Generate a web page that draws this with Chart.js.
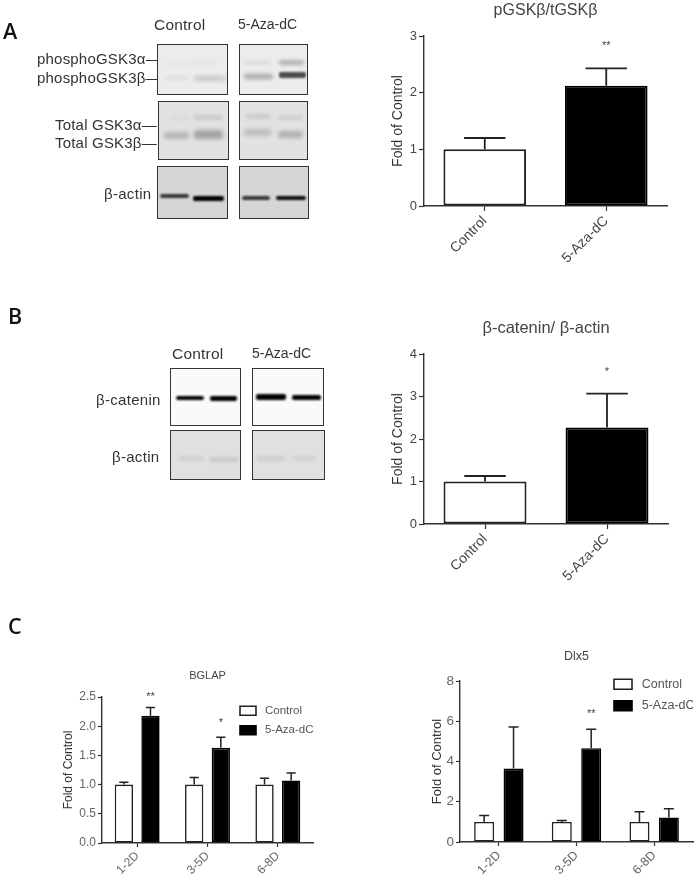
<!DOCTYPE html>
<html>
<head>
<meta charset="utf-8">
<title>Figure</title>
<script src="https://cdn.jsdelivr.net/npm/chart.js@4/dist/chart.umd.min.js"></script>
<style>
  html, body { margin: 0; padding: 0; background: #fff; }
  #page { position: relative; width: 697px; height: 882px; overflow: hidden; filter: blur(0.55px);
          font-family: "Liberation Sans", Arial, sans-serif; color: #333; }
  #page canvas { position: absolute; }
  .txt { position: absolute; white-space: nowrap; transform: translateY(-50%); line-height: 1; }
  .letter { position: absolute; white-space: nowrap; font-size: 21.5px; font-weight: 600; line-height: 1; color: #111;
            font-family: "Open Sans", sans-serif; transform: translateY(-50%); }
  .blot { position: absolute; box-sizing: border-box; border: 1.4px solid #333; overflow: hidden; }
  .band { position: absolute; background: #000; border-radius: 2px; }
</style>
</head>
<body>
<div id="page">
  <canvas id="chartA"></canvas>
  <canvas id="chartB"></canvas>
  <canvas id="chartBglap"></canvas>
  <canvas id="chartDlx5"></canvas>
</div>
<script>
// Datos de los graficos
var twoGroups = ["Control", "5-Aza-dC"];
var days = ["1-2D", "3-5D", "6-8D"];
var aTicks = [0, 1, 2, 3];
var bTicks = [0, 1, 2, 3, 4];
var bglapTicks = [0, 0.5, 1, 1.5, 2, 2.5];
var dlxTicks = [0, 2, 4, 6, 8];

var aValues = [1.0, 2.12];
var aTops = [1.2, 2.43];
var aStars = ["", "**"];
var aStarAt = [null, 2.82];

var bValues = [1.0, 2.27];
var bTops = [1.13, 3.07];
var bStars = ["", "*"];
var bStarAt = [null, 3.58];

var bglapControl = [1.0, 1.0, 1.0];
var bglapControlTops = [1.04, 1.12, 1.11];
var bglapAza = [2.18, 1.63, 1.07];
var bglapAzaTops = [2.32, 1.81, 1.2];
var bglapStars = ["**", "*", ""];
var bglapStarAt = [2.5, 2.05, null];

var dlxControl = [1.0, 1.0, 1.0];
var dlxControlTops = [1.32, 1.07, 1.5];
var dlxAza = [3.65, 4.66, 1.22];
var dlxAzaTops = [5.72, 5.6, 1.65];
var dlxStars = ["", "**", ""];
var dlxStarAt = [null, 6.35, null];

// Textos y membranas, fuera del grafico
var page = document.getElementById("page");

function addText(str, x, y, size, extra) {
  var el = document.createElement("div");
  el.className = "txt";
  el.textContent = str;
  el.style.left = x + "px";
  el.style.top = y + "px";
  el.style.fontSize = size + "px";
  if (extra) el.style.letterSpacing = extra + "px";
  page.appendChild(el);
}

function addLetter(str, x, y) {
  var el = document.createElement("div");
  el.className = "letter";
  el.textContent = str;
  el.style.left = x + "px";
  el.style.top = y + "px";
  page.appendChild(el);
}

function addBlot(x0, y0, x1, y1, bg, bands) {
  var el = document.createElement("div");
  el.className = "blot";
  el.style.left = x0 + "px";
  el.style.top = y0 + "px";
  el.style.width = (x1 - x0) + "px";
  el.style.height = (y1 - y0) + "px";
  el.style.background = bg;
  bands.forEach(function (b) {
    var d = document.createElement("div");
    d.className = "band";
    d.style.left = (b[0] - x0) + "px";
    d.style.top = (b[1] - y0) + "px";
    d.style.width = b[2] + "px";
    d.style.height = b[3] + "px";
    d.style.opacity = b[4];
    d.style.filter = "blur(" + (b[4] < 0.5 ? 2 : 1.1) + "px)";
    el.appendChild(d);
  });
  page.appendChild(el);
}

addLetter("A", 3, 31);
addLetter("B", 8, 316);
addLetter("C", 8, 626);

addText("Control", 154, 25, 15.5, 0.2);
addText("5-Aza-dC", 238, 24, 14);
addText("phosphoGSK3α—", 37, 58, 15, 0.2);
addText("phosphoGSK3β—", 37, 77, 15, 0.2);
addText("Total GSK3α—", 55, 124, 15, 0.2);
addText("Total GSK3β—", 55, 142, 15, 0.2);
addText("β-actin", 104, 193, 15, 0.3);

addText("Control", 172, 354, 15.5, 0.2);
addText("5-Aza-dC", 252, 353, 14);
addText("β-catenin", 96, 399, 15, 0.3);
addText("β-actin", 112, 456, 15, 0.3);

addBlot(157, 44, 228, 95, "#ececec", [[165, 61, 25, 3, 0.03], [192, 60, 24, 3, 0.05], [165, 75, 22, 4, 0.07], [193, 75, 32, 5, 0.16]]);
addBlot(239, 44, 308, 95, "#ececec", [[243, 60, 27, 3, 0.1], [278, 60, 25, 3, 0.42], [243, 73, 29, 5, 0.3], [278, 71, 27, 6, 0.68]]);
addBlot(158, 101, 229, 160, "#e2e2e2", [[170, 116, 18, 2, 0.08], [193, 115, 29, 3, 0.18], [163, 131, 25, 7, 0.2], [193, 129, 29, 9, 0.28]]);
addBlot(239, 101, 308, 160, "#e2e2e2", [[245, 114, 25, 3, 0.18], [277, 115, 25, 3, 0.15], [243, 128, 27, 7, 0.17], [277, 130, 25, 7, 0.22]]);
addBlot(157, 166, 228, 219, "#d6d6d6", [[159, 193, 29, 4, 0.75], [192, 195, 31, 5, 1]]);
addBlot(239, 166, 309, 219, "#d6d6d6", [[241, 195, 28, 4, 0.75], [275, 195, 30, 4, 0.95]]);

addBlot(170, 368, 241, 426, "#fafafa", [[175, 395, 28, 4, 1], [209, 395, 27, 5, 1]]);
addBlot(252, 368, 324, 426, "#fafafa", [[255, 393, 30, 6, 1], [291, 394, 29, 5, 1]]);
addBlot(170, 430, 241, 480, "#e0e0e0", [[177, 456, 26, 3, 0.12], [209, 457, 28, 3, 0.18]]);
addBlot(252, 430, 325, 480, "#e0e0e0", [[255, 456, 30, 3, 0.13], [292, 456, 23, 3, 0.1]]);

var errorBars = {
  id: "errorBars",
  afterDatasetsDraw: function (chart) {
    var ctx = chart.ctx;
    var yScale = chart.scales.y;
    chart.data.datasets.forEach(function (ds, i) {
      var meta = chart.getDatasetMeta(i);
      meta.data.forEach(function (bar, j) {
        var top = yScale.getPixelForValue(ds.tops[j]);
        var half = bar.width / 4;
        ctx.save();
        ctx.strokeStyle = "#222";
        ctx.lineWidth = ds.errWidth;
        ctx.beginPath();
        ctx.moveTo(bar.x, yScale.getPixelForValue(ds.data[j]));
        ctx.lineTo(bar.x, top);
        ctx.moveTo(bar.x - half, top);
        ctx.lineTo(bar.x + half, top);
        ctx.stroke();
        if (ds.stars[j]) {
          ctx.fillStyle = "#444";
          ctx.font = "11px 'Liberation Sans'";
          ctx.textAlign = "center";
          ctx.textBaseline = "middle";
          ctx.fillText(ds.stars[j], bar.x, yScale.getPixelForValue(ds.starAt[j]));
        }
        ctx.restore();
      });
    });
  },
};

// Coloca la leyenda dentro del area del grafico
var legendPlace = {
  id: "legendPlace",
  afterLayout: function (chart) {
    var p = chart.options.plugins.legendPlace;
    if (p && p.x !== undefined && chart.legend) {
      chart.legend.left = p.x;
      chart.legend.top = p.y;
    }
  },
};

// Un espacio delante del texto, el original separa mas la muestra
function spacedLabels(chart) {
  return Chart.defaults.plugins.legend.labels.generateLabels(chart).map(function (item) {
    item.text = " " + item.text;
    return item;
  });
}

// box: posicion del canvas; area: rectangulo del eje en la pagina
function makeChart(id, box, area, cfg) {
  var canvas = document.getElementById(id);
  canvas.style.left = box.left + "px";
  canvas.style.top = box.top + "px";
  var titleLine = cfg.titleSize * 1.2;
  var yTitleLine = cfg.yTitleSize * 1.2;
  return new Chart(canvas, {
    type: "bar",
    data: { labels: cfg.labels, datasets: cfg.datasets },
    plugins: [errorBars, legendPlace],
    options: {
      responsive: false,
      animation: false,
      layout: {
        padding: { top: 0, left: 0, right: box.left + box.width - area.right, bottom: 0 },
      },
      plugins: {
        tooltip: { enabled: false },
        title: {
          display: true,
          text: cfg.title,
          fullSize: false,
          color: "#444",
          font: { family: "Liberation Sans", size: cfg.titleSize, weight: "normal", lineHeight: 1.2 },
          padding: {
            top: cfg.titleY - box.top - titleLine / 2,
            bottom: area.top - cfg.titleY - titleLine / 2,
          },
        },
        legend: cfg.legend || { display: false },
        legendPlace: cfg.legendPlace || {},
      },
      scales: {
        x: {
          offset: true,
          afterFit: function (s) { s.height = box.top + box.height - area.bottom; },
          grid: { offset: false, drawOnChartArea: false, drawTicks: true, tickLength: cfg.tickLen, tickWidth: 1.2, tickColor: "#333" },
          border: { display: true, color: "#333", width: 1.4 },
          ticks: { autoSkip: false, minRotation: 45, maxRotation: 45, padding: 2, color: cfg.textColor, font: { family: "Liberation Sans", size: cfg.xSize } },
        },
        y: {
          min: cfg.yTicks[0],
          max: cfg.yTicks[cfg.yTicks.length - 1],
          afterFit: function (s) { s.width = area.left - box.left; },
          afterBuildTicks: function (s) { s.ticks = cfg.yTicks.map(function (v) { return { value: v }; }); },
          grid: { drawOnChartArea: false, drawTicks: true, tickLength: cfg.tickLen, tickWidth: 1.2, tickColor: "#333" },
          border: { display: true, color: "#333", width: 1.4 },
          ticks: {
            padding: 2,
            color: cfg.textColor,
            font: { family: "Liberation Sans", size: cfg.ySize },
            callback: function (v) { return cfg.yFixed ? v.toFixed(cfg.yFixed) : v; },
          },
          title: {
            display: true,
            text: "Fold of Control",
            color: "#333",
            font: { family: "Liberation Sans", size: cfg.yTitleSize, lineHeight: 1.2 },
            padding: { top: cfg.yTitleX - box.left - yTitleLine / 2, bottom: 0 },
          },
        },
      },
    },
  });
}

function sizeCanvas(id, box) {
  var c = document.getElementById(id);
  c.width = box.width;
  c.height = box.height;
}

function singleSet(values, tops, stars, starAt) {
  return [{
    data: values,
    tops: tops,
    stars: stars,
    starAt: starAt,
    errWidth: 1.8,
    backgroundColor: ["#ffffff", "#000000"],
    borderColor: ["#222222", "#000000"],
    borderWidth: 2,
    borderSkipped: false,
    categoryPercentage: 1,
    barPercentage: 0.68,
  }];
}

function pairedSets(control, controlTops, aza, azaTops, stars, starAt, barPct) {
  return [
    { label: "Control", data: control, tops: controlTops, stars: ["", "", ""], starAt: [null, null, null], errWidth: 1.5,
      backgroundColor: "#ffffff", borderColor: "#222", borderWidth: 1.6, borderSkipped: false,
      categoryPercentage: 0.757, barPercentage: barPct },
    { label: "5-Aza-dC", data: aza, tops: azaTops, stars: stars, starAt: starAt, errWidth: 1.5,
      backgroundColor: "#000000", borderColor: "#000", borderWidth: 1.6, borderSkipped: false,
      categoryPercentage: 0.757, barPercentage: barPct },
  ];
}

var boxA = { left: 380, top: 0, width: 300, height: 290 };
var boxB = { left: 380, top: 310, width: 300, height: 280 };
var boxC = { left: 50, top: 660, width: 290, height: 222 };
var boxD = { left: 415, top: 640, width: 282, height: 242 };
sizeCanvas("chartA", boxA);
sizeCanvas("chartB", boxB);
sizeCanvas("chartBglap", boxC);
sizeCanvas("chartDlx5", boxD);

makeChart("chartA", boxA, { left: 424, right: 667, top: 36, bottom: 206 }, {
  labels: twoGroups,
  datasets: singleSet(aValues, aTops, aStars, aStarAt),
  title: "pGSKβ/tGSKβ",
  titleSize: 16,
  titleY: 10.5,
  yTicks: aTicks,
  ySize: 13,
  xSize: 14,
  yTitleSize: 14,
  yTitleX: 398,
  tickLen: 5,
  textColor: "#444",
});

makeChart("chartB", boxB, { left: 424, right: 668, top: 354, bottom: 524 }, {
  labels: twoGroups,
  datasets: singleSet(bValues, bTops, bStars, bStarAt),
  title: "β-catenin/ β-actin",
  titleSize: 16.5,
  titleY: 328.5,
  yTicks: bTicks,
  ySize: 13,
  xSize: 14,
  yTitleSize: 14,
  yTitleX: 398,
  tickLen: 5,
  textColor: "#444",
});

makeChart("chartBglap", boxC, { left: 102, right: 313, top: 697, bottom: 843 }, {
  labels: days,
  datasets: pairedSets(bglapControl, bglapControlTops, bglapAza, bglapAzaTops, bglapStars, bglapStarAt, 0.6875),
  title: "BGLAP",
  titleSize: 11,
  titleY: 676,
  yTicks: bglapTicks,
  yFixed: 1,
  ySize: 12,
  xSize: 12,
  yTitleSize: 12,
  yTitleX: 69,
  tickLen: 4,
  textColor: "#666",
  legend: {
    display: true,
    position: "chartArea",
    align: "start",
    labels: { boxWidth: 16, boxHeight: 9, padding: 8, color: "#555", font: { family: "Liberation Sans", size: 11.5 }, generateLabels: spacedLabels },
  },
  legendPlace: { x: 182, y: 37 },
});

makeChart("chartDlx5", boxD, { left: 460, right: 693, top: 681, bottom: 842 }, {
  labels: days,
  datasets: pairedSets(dlxControl, dlxControlTops, dlxAza, dlxAzaTops, dlxStars, dlxStarAt, 0.68),
  title: "Dlx5",
  titleSize: 12.5,
  titleY: 657,
  yTicks: dlxTicks,
  ySize: 13.5,
  xSize: 12.5,
  yTitleSize: 13,
  yTitleX: 437,
  tickLen: 4,
  textColor: "#666",
  legend: {
    display: true,
    position: "chartArea",
    align: "start",
    labels: { boxWidth: 18, boxHeight: 10, padding: 9, color: "#555", font: { family: "Liberation Sans", size: 12.5 }, generateLabels: spacedLabels },
  },
  legendPlace: { x: 190, y: 29 },
});
</script>
</body>
</html>
